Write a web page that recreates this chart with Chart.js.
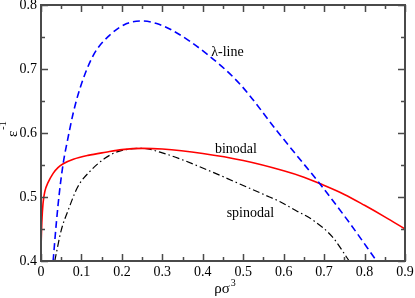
<!DOCTYPE html>
<html>
<head>
<meta charset="utf-8">
<script src="https://cdn.jsdelivr.net/npm/chart.js@4.4.1/dist/chart.umd.min.js"></script>
<style>
  html, body { margin: 0; padding: 0; background: #fff; }
  #wrap { width: 415px; height: 298px; position: relative; }
</style>
</head>
<body>
<div id="wrap"><canvas id="phase"></canvas></div>
<script>
// --- data ---
const lambdaX = [0.030, 0.038, 0.046, 0.055, 0.066, 0.080, 0.096, 0.129, 0.170, 0.212, 0.249, 0.286, 0.326, 0.409, 0.491, 0.585, 0.622, 0.689, 0.760, 0.830];
const lambdaY = [0.400, 0.460, 0.510, 0.553, 0.590, 0.632, 0.669, 0.721, 0.753, 0.771, 0.775, 0.771, 0.760, 0.724, 0.677, 0.602, 0.573, 0.521, 0.462, 0.400];

const binodalX = [0.000, 0.002, 0.005, 0.010, 0.017, 0.030, 0.042, 0.055, 0.080, 0.116, 0.160, 0.200, 0.250, 0.300, 0.400, 0.500, 0.600, 0.650, 0.689, 0.750, 0.800, 0.850, 0.900];
const binodalY = [0.420, 0.460, 0.490, 0.510, 0.522, 0.537, 0.546, 0.552, 0.559, 0.565, 0.570, 0.574, 0.576, 0.575, 0.568, 0.557, 0.541, 0.531, 0.521, 0.504, 0.487, 0.469, 0.450];

const spinodalX = [0.034, 0.050, 0.067, 0.091, 0.124, 0.157, 0.190, 0.250, 0.300, 0.350, 0.420, 0.500, 0.565, 0.590, 0.630, 0.672, 0.720, 0.762];
const spinodalY = [0.400, 0.448, 0.479, 0.516, 0.542, 0.560, 0.571, 0.576, 0.569, 0.558, 0.540, 0.518, 0.500, 0.493, 0.479, 0.464, 0.438, 0.400];

// curve labels, placed in data units (left edge, baseline)
const labelText = ['\u03bb-line', 'binodal', 'spinodal'];
const labelX = [0.421, 0.430, 0.459];
const labelY = [0.720, 0.568, 0.468];

const xTicks = [0, 0.1, 0.2, 0.3, 0.4, 0.5, 0.6, 0.7, 0.8, 0.9];
const yTicks = [0.4, 0.5, 0.6, 0.7, 0.8];

const SERIF = "'Liberation Serif', 'Times New Roman', serif";

function points(xs, ys) {
    return xs.map((x, i) => ({ x: x, y: ys[i] }));
}

// frame with inward ticks on all four sides, plus axis titles and curve labels
const framePlugin = {
    id: 'frame',
    afterDraw(chart) {
        const { ctx, chartArea: a, scales: { x, y } } = chart;
        ctx.save();
        ctx.strokeStyle = '#4a4a4a';
        ctx.lineWidth = 1.5;
        ctx.beginPath();
        for (let v = 0; v <= 0.9001; v += 0.05) {
            const px = Math.round(x.getPixelForValue(v)) + 0.5;
            const len = Math.abs(v * 10 - Math.round(v * 10)) < 1e-6 ? 7 : 4;
            ctx.moveTo(px, a.bottom); ctx.lineTo(px, a.bottom - len);
            ctx.moveTo(px, a.top); ctx.lineTo(px, a.top + len);
        }
        for (let v = 0.4; v <= 0.8001; v += 0.05) {
            const py = Math.round(y.getPixelForValue(v)) + 0.5;
            const len = Math.abs(v * 10 - Math.round(v * 10)) < 1e-6 ? 7 : 4;
            ctx.moveTo(a.left, py); ctx.lineTo(a.left + len, py);
            ctx.moveTo(a.right, py); ctx.lineTo(a.right - len, py);
        }
        ctx.stroke();
        ctx.lineWidth = 2;
        ctx.strokeRect(a.left, a.top, a.right - a.left, a.bottom - a.top);

        ctx.fillStyle = '#000';
        ctx.textBaseline = 'alphabetic';
        ctx.textAlign = 'left';
        ctx.font = '14px ' + SERIF;
        labelText.forEach((t, i) => {
            ctx.fillText(t, x.getPixelForValue(labelX[i]), y.getPixelForValue(labelY[i]));
        });

        // x title: rho sigma ^3
        const cx = (a.left + a.right) / 2 + 2;
        ctx.font = '15px ' + SERIF;
        const main = '\u03c1\u03c3';
        const w = ctx.measureText(main).width;
        ctx.fillText(main, cx - w / 2 - 3, 293);
        ctx.font = '10px ' + SERIF;
        ctx.fillText('3', cx + w / 2 - 2, 286);

        // y title: epsilon ^-1, rotated
        ctx.translate(17, 137);
        ctx.rotate(-Math.PI / 2);
        ctx.font = '15px ' + SERIF;
        ctx.fillText('\u03b5', 0, 0);
        const ew = ctx.measureText('\u03b5').width;
        ctx.font = '10px ' + SERIF;
        ctx.fillText('-1', ew + 1, -11);
        ctx.restore();
    }
};

new Chart(document.getElementById('phase'), {
    type: 'scatter',
    data: {
        datasets: [
            {
                label: 'lambda-line',
                data: points(lambdaX, lambdaY),
                showLine: true,
                borderColor: '#0000ff',
                borderWidth: 1.6,
                borderDash: [7, 4],
                pointRadius: 0,
                cubicInterpolationMode: 'monotone',
            },
            {
                label: 'binodal',
                data: points(binodalX, binodalY),
                showLine: true,
                borderColor: '#ff0000',
                borderWidth: 1.6,
                pointRadius: 0,
                cubicInterpolationMode: 'monotone',
            },
            {
                label: 'spinodal',
                data: points(spinodalX, spinodalY),
                showLine: true,
                borderColor: '#000000',
                borderWidth: 1.2,
                borderDash: [7, 3, 1.5, 3],
                pointRadius: 0,
                cubicInterpolationMode: 'monotone',
            }
        ]
    },
    options: {
        responsive: true,
        maintainAspectRatio: false,
        animation: false,
        layout: { padding: { top: 5, right: 10, left: 0, bottom: 0 } },
        plugins: {
            legend: { display: false },
            tooltip: { enabled: false },
        },
        scales: {
            x: {
                type: 'linear',
                min: 0,
                max: 0.9,
                afterBuildTicks: (s) => { s.ticks = xTicks.map(v => ({ value: v })); },
                afterFit: (s) => { s.height = 37; s.paddingLeft = 0; s.paddingRight = 0; },
                grid: { display: false, drawTicks: false },
                border: { display: false },
                ticks: {
                    padding: 3,
                    color: '#000',
                    font: { family: SERIF, size: 14 },
                    callback: (v) => (v === 0 ? '0' : v.toFixed(1)),
                    maxRotation: 0,
                },
            },
            y: {
                type: 'linear',
                min: 0.4,
                max: 0.8,
                afterBuildTicks: (s) => { s.ticks = yTicks.map(v => ({ value: v })); },
                afterFit: (s) => { s.width = 41; s.paddingTop = 0; s.paddingBottom = 0; },
                grid: { display: false, drawTicks: false },
                border: { display: false },
                ticks: {
                    padding: 4,
                    color: '#000',
                    font: { family: SERIF, size: 14 },
                    callback: (v) => v.toFixed(1),
                },
            }
        }
    },
    plugins: [framePlugin]
});
</script>
</body>
</html>
